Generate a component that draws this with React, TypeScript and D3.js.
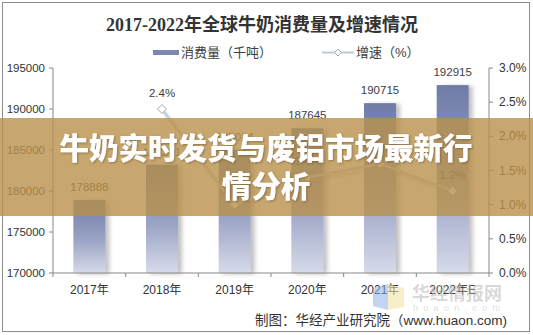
import React from "react";
import * as d3 from "d3";

const years = ["2017年", "2018年", "2019年", "2020年", "2021年", "2022年E"];
const consumption = [178888, 183201, 185024, 187645, 190715, 192915];
const growth: (number | null)[] = [null, 2.4, 1.0, 1.4, 1.6, 1.2];
const leftTicks = [170000, 175000, 180000, 185000, 190000, 195000];
const rightTicks = [0, 0.5, 1.0, 1.5, 2.0, 2.5, 3.0];
const title = "2017-2022年全球牛奶消费量及增速情况";
const legendBar = "消费量（千吨）";
const legendLine = "增速（%）";
const source = "制图：华经产业研究院（www.huaon.com)";
const bannerLines = ["牛奶实时发货与废铝市场最新行", "情分析"];

const W = 533;
const H = 335;
const L = 53;
const R = 489;
const T = 68;
const B = 273;
const SANS = "'Liberation Sans', Arial, 'Noto Sans CJK SC', sans-serif";

export default function App() {
  const x = d3.scaleBand<string>().domain(years).range([L, R]).paddingInner(0.56).paddingOuter(0.28);
  const yL = d3.scaleLinear().domain([170000, 195000]).range([B, T]);
  const yR = d3.scaleLinear().domain([0, 3]).range([B, T]);
  const step = x.step();
  const cx = (c: string) => (x(c) as number) + x.bandwidth() / 2;

  const linePts = years
    .map((c, i) => ({ c, v: growth[i] }))
    .filter((d) => d.v !== null) as { c: string; v: number }[];
  const lineGen = d3
    .line<{ c: string; v: number }>()
    .x((d) => cx(d.c))
    .y((d) => yR(d.v));

  const diamond = (px: number, py: number, r: number) =>
    `M${px},${py - r}L${px + r},${py}L${px},${py + r}L${px - r},${py}Z`;

  const boundaries = d3.range(years.length + 1).map((i) => L + i * step);

  return (
    <svg
      width={W}
      height={H}
      style={{ position: "absolute", left: 0, top: 0, background: "#fff" }}
      fontFamily={SANS}
    >
      <defs>
        <linearGradient id="barGrad" x1="0" y1="0" x2="0" y2="1">
          <stop offset="0%" stopColor="#6f7ca8" />
          <stop offset="55%" stopColor="#9ba4c4" />
          <stop offset="100%" stopColor="#d6daea" />
        </linearGradient>
        <filter id="barShadow" x="-20%" y="-10%" width="160%" height="130%">
          <feDropShadow dx="4" dy="1" stdDeviation="2" floodColor="#777" floodOpacity="0.45" />
        </filter>
        <filter id="lineShadow" x="-10%" y="-30%" width="130%" height="180%">
          <feDropShadow dx="2" dy="3" stdDeviation="1.5" floodColor="#888" floodOpacity="0.45" />
        </filter>
        <filter id="textShadow" x="-5%" y="-20%" width="110%" height="150%">
          <feDropShadow dx="1" dy="1" stdDeviation="1" floodColor="#5a4020" floodOpacity="0.5" />
        </filter>
      </defs>

      <rect x={2.5} y={2.5} width={527} height={329} fill="#fff" stroke="#8c8c8c" strokeWidth={1} />

      <text
        x={262}
        y={31}
        textAnchor="middle"
        fontSize={18}
        fontWeight="bold"
        fill="#333"
        fontFamily="'Liberation Serif', 'Noto Sans CJK SC', serif"
      >
        {title}
      </text>

      {/* legend */}
      <rect x={153} y={50} width={26} height={5} fill="#7d88b0" />
      <text x={181} y={57} fontSize={13} fill="#404040">{legendBar}</text>
      <line x1={322} y1={52.5} x2={354} y2={52.5} stroke="#bfc9da" strokeWidth={2} />
      <path d={diamond(338, 52.5, 3.5)} fill="#fff" stroke="#aaa" strokeWidth={1} />
      <text x={356} y={57} fontSize={13} fill="#404040">{legendLine}</text>

      {/* bars */}
      {years.map((c, i) => (
        <rect
          key={c}
          x={x(c)}
          y={yL(consumption[i])}
          width={x.bandwidth()}
          height={B - yL(consumption[i])}
          fill="url(#barGrad)"
          filter="url(#barShadow)"
        />
      ))}
      {years.map((c, i) => (
        <text
          key={"bl" + c}
          x={cx(c)}
          y={yL(consumption[i]) - 9}
          textAnchor="middle"
          fontSize={11.5}
          fill="#404040"
        >
          {consumption[i]}
        </text>
      ))}

      {/* axes */}
      <line x1={L} y1={T} x2={L} y2={B} stroke="#888" />
      {leftTicks.map((t) => (
        <g key={"lt" + t}>
          <line x1={L - 4} y1={yL(t)} x2={L} y2={yL(t)} stroke="#888" />
          <text x={45} y={yL(t) + 4} textAnchor="end" fontSize={11.5} fill="#333">
            {t}
          </text>
        </g>
      ))}
      <line x1={R} y1={T} x2={R} y2={B} stroke="#888" />
      {rightTicks.map((t) => (
        <g key={"rt" + t}>
          <line x1={R} y1={yR(t)} x2={R + 4} y2={yR(t)} stroke="#888" />
          <text x={499} y={yR(t) + 4} fontSize={12} fill="#333">
            {t.toFixed(1) + "%"}
          </text>
        </g>
      ))}
      <line x1={L} y1={B} x2={R} y2={B} stroke="#888" />
      {boundaries.map((bx, i) => (
        <line key={"xt" + i} x1={bx} y1={B} x2={bx} y2={B + 4} stroke="#888" />
      ))}
      {years.map((c) => (
        <text key={"xl" + c} x={cx(c)} y={294} textAnchor="middle" fontSize={12} fill="#333">
          {c}
        </text>
      ))}

      {/* line */}
      <path
        d={lineGen(linePts) || ""}
        fill="none"
        stroke="#c3cddd"
        strokeWidth={2.2}
        filter="url(#lineShadow)"
      />
      {linePts.map((d) => (
        <path key={"m" + d.c} d={diamond(cx(d.c), yR(d.v), 4.5)} fill="#fff" stroke="#a8a8a8" strokeWidth={1} />
      ))}
      {linePts.map((d) => (
        <text
          key={"ll" + d.c}
          x={cx(d.c)}
          y={yR(d.v) - 12}
          textAnchor="middle"
          fontSize={11.5}
          fill="#404040"
        >
          {d.v.toFixed(1) + "%"}
        </text>
      ))}

      {/* watermark */}
      <g opacity={0.55}>
        <path d="M373,288 L388,284 L388,310 L373,306 Z" fill="#8fb4e8" />
        <path d="M388,284 L404,288 L404,307 L388,310 Z" fill="#f2e29a" />
        <text
          x={412}
          y={300}
          fontSize={18}
          fontWeight="bold"
          fill="#b9b9b9"
          fontFamily="'Noto Sans CJK SC', sans-serif"
        >
          华经情报网
        </text>
        <text x={413} y={311} fontSize={9} fill="#c4c4c4" letterSpacing={5.3}>
          huaon.com
        </text>
      </g>

      <text x={507} y={325} textAnchor="end" fontSize={13.5} fill="#333">
        {source}
      </text>

      {/* banner overlay */}
      <rect x={0} y={118} width={W} height={98} fill="rgb(185,145,75)" fillOpacity={0.8} />
      {bannerLines.map((s, i) => (
        <text
          key={"bn" + i}
          x={266}
          y={159 + i * 38}
          textAnchor="middle"
          fontSize={29.5}
          fontWeight={900}
          fill="#fff"
          fontFamily="'Noto Sans CJK SC', sans-serif"
          filter="url(#textShadow)"
        >
          {s}
        </text>
      ))}
    </svg>
  );
}
